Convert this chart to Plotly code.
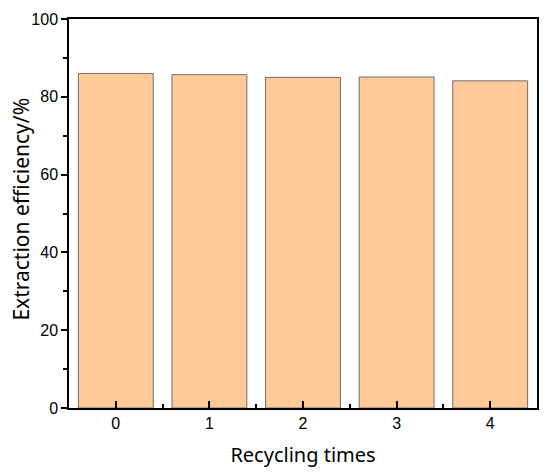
import plotly.graph_objects as go

categories = [0, 1, 2, 3, 4]
efficiency = [86.0, 85.7, 85.0, 85.1, 84.1]
y_ticks = [0, 20, 40, 60, 80, 100]

fig = go.Figure()
fig.add_trace(go.Bar(
    x=categories, y=efficiency, width=0.8,
    marker=dict(color="#FFC998", line=dict(color="#6E6E6E", width=1)),
))

tick_font = dict(family="Liberation Sans, Arial", size=16, color="#000000")

# page body has an 8px default margin; figure size/margins compensate for it
fig.update_layout(
    width=534, height=460,
    margin=dict(l=61, r=5, t=11, b=60, autoexpand=False),
    paper_bgcolor="white", plot_bgcolor="white",
    showlegend=False,
    xaxis=dict(
        range=[-0.5, 4.5], tickmode="array", tickvals=categories,
        ticktext=[str(c) for c in categories],
        ticks="inside", ticklen=7, tickwidth=1.5, tickcolor="#000",
        minor=dict(tickmode="array", tickvals=[0.5, 1.5, 2.5, 3.5], ticks="inside", ticklen=4, tickwidth=1.5, tickcolor="#000"),
        showline=True, linecolor="#000", linewidth=1.5, mirror=True,
        showgrid=False, zeroline=False, automargin=False,
        tickfont=tick_font,
        title=dict(text="Recycling times", font=dict(family="Noto Sans, Open Sans", size=20, color="#000"), standoff=18),
    ),
    yaxis=dict(
        range=[0, 100], tickmode="array", tickvals=y_ticks,
        ticks="outside", ticklen=6, tickwidth=1.5, tickcolor="#000",
        minor=dict(tickmode="array", tickvals=[10, 30, 50, 70, 90], ticks="outside", ticklen=4, tickwidth=1.5, tickcolor="#000"),
        showline=True, linecolor="#000", linewidth=1.5, mirror=True,
        showgrid=False, zeroline=False, automargin=False,
        tickfont=tick_font,
    ),
    annotations=[dict(
        text="Extraction efficiency/%", textangle=-90,
        xref="paper", yref="paper", x=0, y=0.51,
        xanchor="center", yanchor="middle", xshift=-48, showarrow=False,
        font=dict(family="Noto Sans, Open Sans", size=21, color="#000"),
    )],
)

fig.write_html("out.html")
